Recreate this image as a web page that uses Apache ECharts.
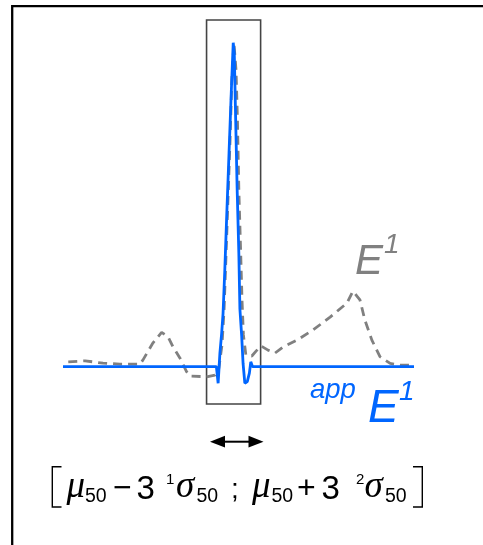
<!DOCTYPE html>
<html><head><meta charset="utf-8">
<script src="https://cdn.jsdelivr.net/npm/echarts@6/dist/echarts.min.js"></script>
<style>html,body{margin:0;padding:0;background:#fff}#c{width:483px;height:545px}</style>
</head><body><div id="c"></div>
<script>
// Gray dashed curve E^1 (x in arbitrary units 0..100, y: baseline 0, main peak 100)
const grayX = [1.5, 6.3, 11.4, 16.2, 21.9, 22.8, 25.6, 28.1, 29.9, 31.3, 33.3, 35.2, 36.2, 40.9, 43.3,
  44.4, 45.3, 45.9, 46.4, 47.0, 47.6, 48.1, 48.7, 49.3, 49.7, 50.1, 50.6, 51.0, 51.4, 52.1, 53.8, 55.0,
  56.4, 58.4, 60.4, 62.7, 66.7, 71.2, 76.1, 80.9, 82.6, 84.6, 86.0, 88.0, 90.3, 93.2, 96.0, 100];
const grayY = [1.5, 1.8, 1.1, 0.8, 0.8, 2.1, 7.3, 10.6, 9.3, 6.2, 2.7, -1.5, -2.9, -3.1, -2.6,
  -0.4, 6.7, 17.8, 32.9, 51.4, 69.9, 88.4, 99.8, 91.4, 76.1, 54.5, 36.0, 20.6, 9.8, 3.6, 3.3, 4.8,
  6.4, 5.1, 4.2, 6.1, 8.2, 11.3, 15.3, 19.6, 23.3, 20.6, 14.4, 8.2, 3.1, 1.0, 0.5, 0.5];
// Blue solid curve appE^1
const blueX = [0, 43.7, 44.2, 44.7, 45.2, 45.6, 46.1, 46.6, 47.3, 48.0, 48.5, 48.8, 49.2, 49.6, 50.1,
  50.4, 50.9, 51.3, 51.8, 52.5, 53.1, 53.5, 54.0, 100];
const blueY = [0, 0, -5.1, 4.1, 10.3, 16.4, 29.8, 45.2, 65.8, 86.3, 99.9, 96.6, 75.9, 55.4, 34.8,
  17.8, 9.6, 1.0, -5.1, -4.6, -2.0, 1.5, 0, 0];
// Window [mu50 - 3 1sigma50 ; mu50 + 3 2sigma50]
const windowRange = [40.9, 56.3];
const labelGray = 'E';
const labelBluePre = 'app';
const labelBlue = 'E';
const supOne = '1';

const pair = (xs, ys) => xs.map((x, i) => [x, ys[i]]);
const chart = echarts.init(document.getElementById('c'), null, {renderer: 'canvas'});

const SANS = '"Liberation Sans", Arial, sans-serif';
const SERIF = '"Liberation Serif", "Times New Roman", serif';
function txt(text, x, y, size, opt) {
  opt = opt || {};
  return {
    type: 'text', z: 10,
    style: {
      text: text, x: x, y: y,
      fontSize: size, fontFamily: opt.family || SANS,
      fontStyle: opt.italic ? 'italic' : 'normal',
      fill: opt.color || '#000',
      align: 'left', verticalAlign: 'middle',
      textAlign: 'left', textVerticalAlign: 'middle'
    }
  };
}
// baseline -> middle y helper
const mid = (base, size, k) => base - (k || 0.35) * size;

const graphics = [
  {type: 'rect', shape: {x: 12.2, y: 6.2, width: 500, height: 600},
   style: {fill: 'none', stroke: '#000', lineWidth: 2.3}, z: 20},
  // gray label E^1
  txt(labelGray, 355, mid(276.7, 42), 42, {italic: true, color: '#808080'}),
  txt(supOne, 384, mid(255, 28), 28, {italic: true, color: '#808080'}),
  // blue label app E^1
  txt(labelBluePre, 310, mid(400, 27.5), 27.5, {italic: true, color: '#0066ff'}),
  txt(labelBlue, 368, mid(425, 46), 46, {italic: true, color: '#0066ff'}),
  txt(supOne, 399, mid(401.7, 28), 28, {italic: true, color: '#0066ff'}),
  // double arrow
  {type: 'line', shape: {x1: 222, y1: 441.7, x2: 252, y2: 441.7}, style: {stroke: '#000', lineWidth: 2}},
  {type: 'polygon', shape: {points: [[210, 441.7], [225, 435.8], [225, 447.6]]}, style: {fill: '#000'}},
  {type: 'polygon', shape: {points: [[263.5, 441.7], [248.5, 435.8], [248.5, 447.6]]}, style: {fill: '#000'}},
  // brackets
  {type: 'polyline', shape: {points: [[61.5, 466.7], [52.3, 466.7], [52.3, 507], [61.5, 507]]}, style: {stroke: '#000', lineWidth: 1.4, fill: 'none'}},
  {type: 'polyline', shape: {points: [[413, 466.7], [422.3, 466.7], [422.3, 507], [413, 507]]}, style: {stroke: '#000', lineWidth: 1.4, fill: 'none'}},
  // formula
  txt('\u03bc', 66.5, mid(500, 37, 0.3375), 37, {italic: true, family: SERIF}),
  txt('50', 85, mid(503.3, 19.5), 19.5),
  txt('\u2212', 113, mid(500, 32), 32),
  txt('3', 136.5, mid(501.5, 33), 33),
  txt('1', 166, mid(485, 15), 15),
  txt('\u03c3', 176, mid(500, 37, 0.3375), 37, {italic: true, family: SERIF}),
  txt('50', 196.5, mid(503.3, 19.5), 19.5),
  txt(';', 231, mid(500, 28), 28),
  txt('\u03bc', 252, mid(500, 37, 0.3375), 37, {italic: true, family: SERIF}),
  txt('50', 271.5, mid(503.3, 19.5), 19.5),
  txt('+', 297, mid(500, 32), 32),
  txt('3', 321.5, mid(501.5, 33), 33),
  txt('2', 356, mid(485, 15), 15),
  txt('\u03c3', 364.5, mid(500, 37, 0.3375), 37, {italic: true, family: SERIF}),
  txt('50', 385, mid(503.3, 19.5), 19.5)
];

chart.setOption({
  animation: false,
  backgroundColor: '#fff',
  grid: {left: 63, right: 69, top: 20, bottom: 141, containLabel: false},
  xAxis: {type: 'value', min: 0, max: 100, show: false},
  yAxis: {type: 'value', min: -11.5, max: 106.9, show: false},
  series: [
    {
      type: 'line', data: pair(grayX, grayY), symbol: 'none', clip: false, z: 2,
      lineStyle: {color: '#808080', width: 2.8, type: [9, 6]},
      markArea: {
        silent: true,
        itemStyle: {color: 'rgba(0,0,0,0)', borderColor: '#444', borderWidth: 1.6},
        data: [[{xAxis: windowRange[0]}, {xAxis: windowRange[1]}]]
      }
    },
    {
      type: 'line', data: pair(blueX, blueY), symbol: 'none', clip: false, z: 3,
      lineStyle: {color: '#0066ff', width: 2.8}
    }
  ],
  graphic: graphics
});
</script>
</body></html>
